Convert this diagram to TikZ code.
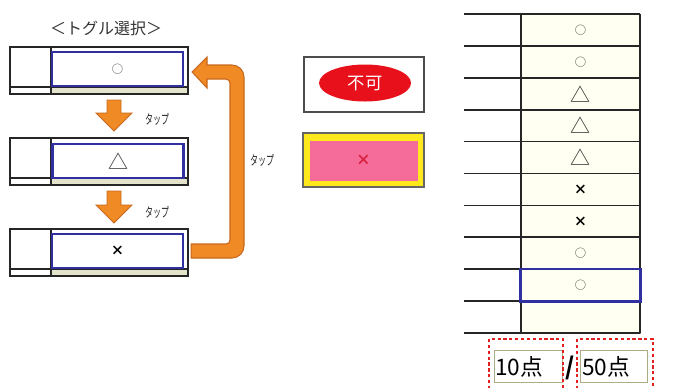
\documentclass[tikz,border=0pt]{standalone}
\usepackage{fontspec}
\setmainfont{Noto Sans CJK JP}
\usetikzlibrary{calc,shapes.geometric}
\definecolor{blueb}{HTML}{3030A0}
\definecolor{olivel}{HTML}{8A8A50}
\definecolor{cellf}{HTML}{FFFFF2}
\definecolor{bandf}{HTML}{E4E4CC}
\definecolor{orangeA}{HTML}{F08A24}
\definecolor{orangeD}{HTML}{C8681C}
\definecolor{ngred}{HTML}{E8101A}
\definecolor{pinkf}{HTML}{F56C9A}
\definecolor{yel}{HTML}{FFE81C}
\definecolor{dotred}{HTML}{E02020}
\definecolor{xred}{HTML}{D82040}
\begin{document}
\begin{tikzpicture}[x=0.75pt,y=-0.75pt,line join=miter]
\clip (0,0) rectangle (673,387);
\tikzset{
  gridline/.style={line width=1.3pt,black!85},
  bluebox/.style={draw=blueb,line width=1.7pt,fill=white,minimum width=131*0.75pt,minimum height=34*0.75pt,inner sep=0},
  cellbox/.style={draw=olivel,line width=0.6pt,fill=cellf,minimum width=119*0.75pt,minimum height=31.9*0.75pt,inner sep=0},
  title/.style={inner sep=0,font=\fontsize{12}{12}\selectfont,text=black!80},
  taplbl/.style={inner sep=0,font=\fontsize{10}{10}\selectfont,text=black!85},
  circ/.style={font=\fontsize{8.5}{8.5}\selectfont,text=black!75},
  tri/.style={font=\fontsize{15}{15}\selectfont,text=black!80},
  cross/.style={font=\fontsize{10}{10}\selectfont\bfseries},
  arrowfill/.style={fill=orangeA,draw=orangeD,line width=0.6pt},
  dotbox/.style={draw=dotred,line width=2.2pt,dash pattern=on 2.4pt off 2pt},
  innerbox/.style={draw=olivel!70,line width=0.6pt},
  bignum/.style={inner sep=0,anchor=west,font=\fontsize{17}{17}\selectfont}
}
% title
\node[title] (ttl) at (106,28) {＜トグル選択＞};
% left toggle rows
\foreach \y in {47,138,229}{
  \fill[bandf] (51,\y+40) rectangle (188,\y+47);
  \draw[gridline] (10,\y) rectangle (188,\y+47);
  \draw[gridline] (10,\y+40) -- (188,\y+40);
  \draw[gridline] (51,\y) -- (51,\y+47);
}
\node[bluebox] (t1) at (117.5,69) {\tikz[baseline]\node[circ,inner sep=0]{○};};
\node[bluebox] (t2) at (118,161) {\tikz[baseline]\node[tri,inner sep=0]{△};};
\node[bluebox] (t3) at (117.5,251) {\tikz[baseline]\node[cross,inner sep=0]{×};};
% down arrows
\draw[arrowfill] (107,100) -- (121,100) -- (121,113) -- (132,113) -- (114,131) -- (96,113) -- (107,113) -- cycle;
\draw[arrowfill] (107,191) -- (121,191) -- (121,205) -- (132,205) -- (114,223) -- (96,205) -- (107,205) -- cycle;
\node[taplbl] (tap1) at (157,119) {\scalebox{0.6}[1]{タップ}};
\node[taplbl] (tap2) at (157,212) {\scalebox{0.6}[1]{タップ}};
% loop arrow from t3 back to t1
\coordinate (ls) at ($(t3.east)+(7,0)$);
\coordinate (le) at ($(t1.east)+(8,3)$);
\draw[arrowfill,line width=0.8pt] ($(ls)+(0,-7)$) [rounded corners=3pt] -- (230,244) -- (230,79) [sharp corners] -- (207,79) -- (207,88) -- (le) -- (207,57) -- (207,65) [rounded corners=9pt] -- (244,65) -- (244,258) [sharp corners] -- ($(ls)+(0,7)$) -- cycle;
\node[taplbl] (tap3) at (262,160) {\scalebox{0.6}[1]{タップ}};
% NG box
\node[draw=black!70,line width=1.3pt,fill=white,minimum width=120*0.75pt,minimum height=55*0.75pt,inner sep=0] (ngbox) at (364,84.5) {};
\node[ellipse,fill=ngred,minimum width=92*0.75pt,minimum height=37*0.75pt,inner sep=0,text=white,font=\fontsize{13}{13}\selectfont] (ng) at (365,83) {不可};
% pink box
\node[draw=black!60,line width=0.8pt,fill=yel,minimum width=121*0.75pt,minimum height=54*0.75pt,inner sep=0] (xbox) at (363.5,160) {};
\node[fill=pinkf,minimum width=108*0.75pt,minimum height=40*0.75pt,inner sep=0,text=xred,font=\fontsize{11}{11}\selectfont\bfseries] (xcell) at (363.5,160.5) {×};
% right table
\foreach \i/\s/\st in {0/○/circ,1/○/circ,2/△/tri,3/△/tri,4/△/tri,5/×/cross,6/×/cross,7/○/circ,8/○/circ,9/{}/circ}{
  \node[cellbox] (r\i) at (580.5,{14+31.9*\i+15.95}) {\tikz[baseline]\node[\st,inner sep=0]{\s};};
}
\foreach \i in {0,...,10}{
  \draw[gridline] (464,{14+31.9*\i}) -- (640,{14+31.9*\i});
}
\draw[gridline] (521,14) -- (521,333);
\draw[gridline] (640,14) -- (640,333);
\draw[draw=blueb,line width=1.7pt] (r8.north west) rectangle (r8.south east);
% score
\draw[innerbox] (494,350) rectangle (562,382);
\draw[innerbox] (580,350) rectangle (647,382);
\draw[dotbox] (489,395) -- (489,339) -- (563,339) -- (563,395);
\draw[dotbox] (577,395) -- (577,339) -- (653,339) -- (653,395);
\node[bignum] (sc1) at (495,367) {10点};
\node[bignum] (sc2) at (582,367) {50点};
\node[inner sep=0,font=\fontsize{18}{18}\selectfont\bfseries] (sl) at (570,368) {/};
\end{tikzpicture}
\end{document}
